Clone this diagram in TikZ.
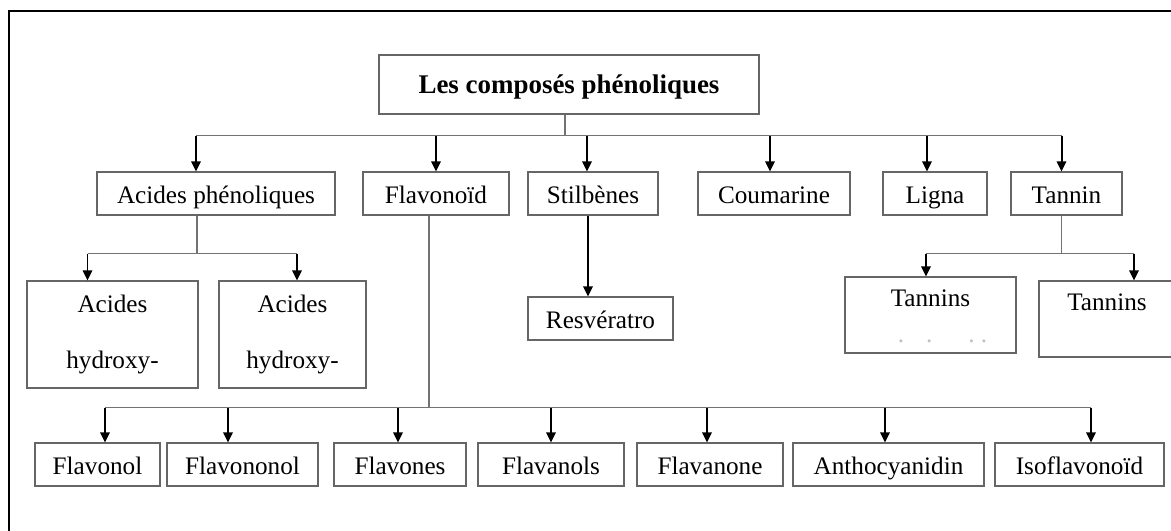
\documentclass[tikz,border=0pt]{standalone}
\usepackage{fontspec}
\setmainfont{Liberation Serif}
\usetikzlibrary{arrows.meta, calc}

\begin{document}
\begin{tikzpicture}[
  x=0.03cm, y=-0.03cm,
  font=\fontsize{21.5}{25}\selectfont,
  every node/.style={align=center},
  plain/.style={draw=black!60, line width=0.9pt, inner sep=0pt},
  box/.style={plain, text height=0.93cm, text depth=0.36cm},
  tallbox/.style={plain, minimum height=#1*0.03cm},
  topbox/.style={plain, text height=0.87cm, text depth=1.41cm},
  wd/.style={minimum width=#1*0.03cm},
  headbox/.style={plain, font=\bfseries\fontsize{23}{28}\selectfont, text height=1.14cm, text depth=0.63cm},
  link/.style={draw=black!55, line width=0.9pt},
  arr/.style={-{Triangle[length=0.3cm, width=0.28cm]}, line width=1.7pt, black},
  frame/.style={line width=1.7pt, black}]

  \useasboundingbox (0,0) rectangle (1171,531);
  \draw[frame] (9,531) -- (9,11) -- (1171,11);

  % Top level
  \node[headbox, wd=380] (root) at (569,84.5) {Les composés phénoliques};

  % First row of families
  \node[box, wd=238] (acides) at (216,193.5) {Acides phénoliques};
  \node[box, wd=146] (flavo) at (436,193.5) {Flavonoïd};
  \node[box, wd=130] (stilb) at (593,193.5) {Stilbènes};
  \node[box, wd=152] (couma) at (774,193.5) {Coumarine};
  \node[box, wd=104] (ligna) at (935,193.5) {Ligna};
  \node[box, wd=111] (tannin) at (1066.5,193.5) {Tannin};

  % Second row
  \node[tallbox=107, wd=171] (hyd1) at (112.5,334.5) {Acides\\[22pt]hydroxy-};
  \node[tallbox=107, wd=147] (hyd2) at (292.5,334.5) {Acides\\[22pt]hydroxy-};
  \node[box, wd=145] (resv) at (600.5,318.5) {Resvératro};
  \node[topbox, wd=171] (tan1) at (930.5,315) {Tannins};
  \node[inner sep=0pt, text=black!25] (tan1dots) at ($(tan1.south)+(12,-12)$)
    {.\hspace{0.66cm}.\hspace{1.08cm}.\hspace{0.18cm}.};
  \node[topbox, wd=136] (tan2) at (1107,319) {Tannins};

  % Flavonoid subclasses
  \node[box, wd=125] (flavonol) at (97.5,464.5) {Flavonol};
  \node[box, wd=151] (flavononol) at (242.5,464.5) {Flavononol};
  \node[box, wd=132] (flavones) at (400,464.5) {Flavones};
  \node[box, wd=146] (flavanols) at (551,464.5) {Flavanols};
  \node[box, wd=146] (flavanone) at (710,464.5) {Flavanone};
  \node[box, wd=191] (antho) at (888.5,464.5) {Anthocyanidin};
  \node[box, wd=169] (isofl) at (1079.5,464.5) {Isoflavonoïd};

  % Root to families
  \coordinate (bus1) at ($(root.south)+(-4,21)$);
  \coordinate (acin) at ($(acides.north)+(-20,0)$);
  \draw[link] ($(root.south)+(-4,0)$) -- (bus1);
  \draw[link] (bus1 -| acin) -- ($(bus1 -| tannin)+(-5,0)$);
  \draw[arr] (bus1 -| acin) -- (acin);
  \draw[arr] (bus1 -| flavo) -- (flavo.north);
  \draw[arr] ($(bus1 -| stilb)+(-6,0)$) -- ($(stilb.north)+(-6,0)$);
  \draw[arr] ($(bus1 -| couma)+(-4,0)$) -- ($(couma.north)+(-4,0)$);
  \draw[arr] ($(bus1 -| ligna)+(-8,0)$) -- ($(ligna.north)+(-8,0)$);
  \draw[arr] ($(bus1 -| tannin)+(-5,0)$) -- ($(tannin.north)+(-5,0)$);

  % Acides phenoliques branch
  \coordinate (acout) at ($(acides.south)+(-19,0)$);
  \coordinate (bus2) at ($(acout)+(0,38)$);
  \draw[link] (acout) -- (bus2);
  \draw[link] ($(bus2 -| hyd1)+(-25,0)$) -- ($(bus2 -| hyd2)+(4.5,0)$);
  \draw[arr] ($(bus2 -| hyd1)+(-25,0)$) -- ($(hyd1.north)+(-25,0)$);
  \draw[arr] ($(bus2 -| hyd2)+(4.5,0)$) -- ($(hyd2.north)+(4.5,0)$);

  % Stilbenes branch
  \coordinate (stout) at ($(stilb.south)+(-5,0)$);
  \draw[arr] (stout) -- (stout |- resv.north);

  % Tannin branch
  \coordinate (taout) at ($(tannin.south)+(-5,0)$);
  \coordinate (bus4) at ($(taout)+(0,38)$);
  \draw[link] (taout) -- (bus4);
  \draw[link] ($(bus4 -| tan1)+(-4.5,0)$) -- ($(bus4 -| tan2)+(27,0)$);
  \draw[arr] ($(bus4 -| tan1)+(-4.5,0)$) -- ($(tan1.north)+(-4.5,0)$);
  \draw[arr] ($(bus4 -| tan2)+(27,0)$) -- ($(tan2.north)+(27,0)$);

  % Flavonoid branch
  \coordinate (flout) at ($(flavo.south)+(-7,0)$);
  \coordinate (bus3) at ($(flout)+(0,192)$);
  \draw[link] (flout) -- (bus3);
  \draw[link] ($(bus3 -| flavonol)+(7.5,0)$) -- ($(bus3 -| isofl)+(11.5,0)$);
  \draw[arr] ($(bus3 -| flavonol)+(7.5,0)$) -- ($(flavonol.north)+(7.5,0)$);
  \draw[arr] ($(bus3 -| flavononol)+(-14.5,0)$) -- ($(flavononol.north)+(-14.5,0)$);
  \draw[arr] ($(bus3 -| flavones)+(-2,0)$) -- ($(flavones.north)+(-2,0)$);
  \draw[arr] (bus3 -| flavanols) -- (flavanols.north);
  \draw[arr] ($(bus3 -| flavanone)+(-3,0)$) -- ($(flavanone.north)+(-3,0)$);
  \draw[arr] ($(bus3 -| antho)+(-3.5,0)$) -- ($(antho.north)+(-3.5,0)$);
  \draw[arr] ($(bus3 -| isofl)+(11.5,0)$) -- ($(isofl.north)+(11.5,0)$);

\end{tikzpicture}
\end{document}
